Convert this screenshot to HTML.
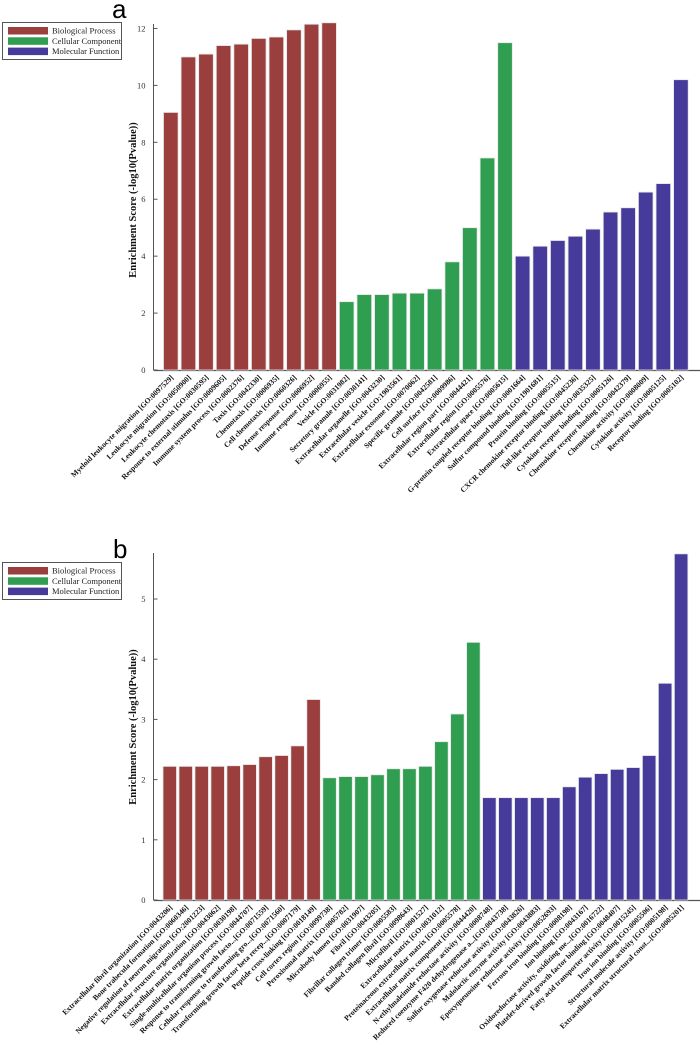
<!DOCTYPE html>
<html><head><meta charset="utf-8"><style>
html,body{margin:0;padding:0;background:#fff;width:700px;height:1048px;overflow:hidden}
svg{display:block}
text{font-family:"Liberation Serif",serif}
</style></head><body>
<svg id="chart" width="700" height="1048" viewBox="0 0 700 1048" xmlns="http://www.w3.org/2000/svg"></svg>
<script>
const catsA = ["Myeloid leukocyte migration [GO:0097529]","Leukocyte migration [GO:0050900]","Leukocyte chemotaxis [GO:0030595]","Response to external stimulus [GO:0009605]","Immune system process [GO:0002376]","Taxis [GO:0042330]","Chemotaxis [GO:0006935]","Cell chemotaxis [GO:0060326]","Defense response [GO:0006952]","Immune response [GO:0006955]",
"Vesicle [GO:0031982]","Secretory granule [GO:0030141]","Extracellular organelle [GO:0043230]","Extracellular vesicle [GO:1903561]","Extracellular exosome [GO:0070062]","Specific granule [GO:0042581]","Cell surface [GO:0009986]","Extracellular region part [GO:0044421]","Extracellular region [GO:0005576]","Extracellular space [GO:0005615]",
"G-protein coupled receptor binding [GO:0001664]","Sulfur compound binding [GO:1901681]","Protein binding [GO:0005515]","CXCR chemokine receptor binding [GO:0045236]","Toll-like receptor binding [GO:0035325]","Cytokine receptor binding [GO:0005126]","Chemokine receptor binding [GO:0042379]","Chemokine activity [GO:0008009]","Cytokine activity [GO:0005125]","Receptor binding [GO:0005102]"];
const valsA = [9.05,11.0,11.1,11.4,11.45,11.65,11.7,11.95,12.15,12.2, 2.4,2.65,2.65,2.7,2.7,2.85,3.8,5.0,7.45,11.5, 4.0,4.35,4.55,4.7,4.95,5.55,5.7,6.25,6.55,10.2];
const groupsA = [0,0,0,0,0,0,0,0,0,0,1,1,1,1,1,1,1,1,1,1,2,2,2,2,2,2,2,2,2,2];
const ticksA = [0,2,4,6,8,10,12];

const catsB = ["Extracellular fibril organization [GO:0043206]","Bone trabecula formation [GO:0060346]","Negative regulation of neuron migration [GO:2001223]","Extracellular structure organization [GO:0043062]","Extracellular matrix organization [GO:0030198]","Single-multicellular organism process [GO:0044707]","Response to transforming growth facto...[GO:0071559]","Cellular response to transforming gro...[GO:0071560]","Transforming growth factor beta recep...[GO:0007179]","Peptide cross-linking [GO:0018149]",
"Cell cortex region [GO:0099738]","Peroxisomal matrix [GO:0005782]","Microbody lumen [GO:0031907]","Fibril [GO:0043205]","Fibrillar collagen trimer [GO:0005583]","Banded collagen fibril [GO:0098643]","Microfibril [GO:0001527]","Extracellular matrix [GO:0031012]","Proteinaceous extracellular matrix [GO:0005578]","Extracellular matrix component [GO:0044420]",
"N-ethylmaleimide reductase activity [GO:0008748]","Reduced coenzyme F420 dehydrogenase a...[GO:0043738]","Sulfur oxygenase reductase activity [GO:0043826]","Malolactic enzyme activity [GO:0043883]","Epoxyqueuosine reductase activity [GO:0052693]","Ferrous iron binding [GO:0008198]","Ion binding [GO:0043167]","Oxidoreductase activity, oxidizing me...[GO:0016722]","Platelet-derived growth factor binding [GO:0048407]","Fatty acid transporter activity [GO:0015245]","Iron ion binding [GO:0005506]","Structural molecule activity [GO:0005198]","Extracellular matrix structural const...[GO:0005201]"];
const valsB = [2.22,2.22,2.22,2.22,2.23,2.25,2.38,2.4,2.56,3.33, 2.03,2.05,2.05,2.08,2.18,2.18,2.22,2.63,3.09,4.28, 1.7,1.7,1.7,1.7,1.7,1.88,2.04,2.1,2.17,2.2,2.4,3.6,5.75];
const groupsB = [0,0,0,0,0,0,0,0,0,0,1,1,1,1,1,1,1,1,1,1,2,2,2,2,2,2,2,2,2,2,2,2,2];
const ticksB = [0,1,2,3,4,5];
const legendNames = ["Biological Process","Cellular Component","Molecular Function"];

const COLORS = ["#9b3e3e","#2f9e50","#463a9a"];
const NS = "http://www.w3.org/2000/svg";
const svg = document.getElementById("chart");
function mk(tag, attrs, parent){const e=document.createElementNS(NS,tag);for(const k in attrs)e.setAttribute(k,attrs[k]);(parent||svg).appendChild(e);return e;}

function panel(cfg){
  const g = mk("g",{});
  
  
  const y = v => cfg.y0 - v*cfg.pxPer;
  const x = i => cfg.x0 + i*cfg.pitch;
  const L = mk("text",{x:cfg.letterX,y:cfg.letterY,"font-size":26,style:"font-family:'Liberation Sans',sans-serif",fill:"#000"},g);
  L.textContent = cfg.letter;
  
  
  const lg = mk("g",{},g);
  
  
  mk("rect",{x:2.5,y:cfg.legY+0.5,width:119,height:37,fill:"#fff",stroke:"#555","stroke-width":1},lg);
  legendNames.forEach((n,k)=>{
    const e = mk("g",{},lg);
    
    
    mk("rect",{x:8,y:cfg.legY+5+k*10.3,width:40,height:7.5,fill:COLORS[k]},e);
    const t = mk("text",{x:52,y:cfg.legY+11.5+k*10.3,"font-size":8.5,fill:"#222"},e);
    t.textContent = n;
  });
  const ax = mk("g",{},g);
  
  
  mk("line",{x1:cfg.axX,y1:cfg.axTop,x2:cfg.axX,y2:cfg.y0,stroke:"#555","stroke-width":1},ax);
  cfg.ticks.forEach(v=>{
    mk("line",{x1:cfg.axX,y1:y(v),x2:cfg.axX+4,y2:y(v),stroke:"#555","stroke-width":1},ax);
    const t = mk("text",{x:cfg.axX-8,y:y(v)+3,"font-size":8.5,"text-anchor":"end",fill:"#333"},ax);
    t.textContent = v;
    
    
  });
  const xa = mk("line",{x1:cfg.axX,y1:cfg.y0+0.5,x2:700,y2:cfg.y0+0.5,stroke:"#555","stroke-width":1.2},g);
  
  
  const yt = mk("text",{x:0,y:0,"font-size":10.5,"font-weight":"bold","text-anchor":"middle",fill:"#111",
    transform:`translate(${cfg.titleX},${cfg.titleY}) rotate(-90)`},g);
  yt.textContent = "Enrichment Score (-log10(Pvalue))";
  
  
  cfg.vals.forEach((v,i)=>{
    const r = mk("rect",{x:x(i),y:y(v),width:cfg.bw,height:cfg.y0-y(v),fill:COLORS[cfg.groups[i]],stroke:"#e6e6e6","stroke-width":0.8},g);
    
    
    const cx = x(i)+cfg.bw/2+3;
    const t = mk("text",{x:0,y:0,"font-size":7.6,"font-weight":"bold","text-anchor":"end",fill:"#111",
      transform:`translate(${cx},${cfg.y0+8}) rotate(-45)`},g);
    t.textContent = cfg.cats[i];
    
    
  });
}

panel({name:"chart-a",letter:"a",letterX:112,letterY:18,legY:22,cats:catsA,vals:valsA,groups:groupsA,ticks:ticksA,
  axX:153.5,axTop:24,y0:370,pxPer:28.46,x0:163.5,pitch:17.59,bw:14.6,titleX:136,titleY:200});
panel({name:"chart-b",letter:"b",letterX:113,letterY:558,legY:562,cats:catsB,vals:valsB,groups:groupsB,ticks:ticksB,
  axX:153.5,axTop:553,y0:900,pxPer:60.2,x0:163,pitch:15.98,bw:13.5,titleX:136,titleY:727});
</script>
</body></html>
